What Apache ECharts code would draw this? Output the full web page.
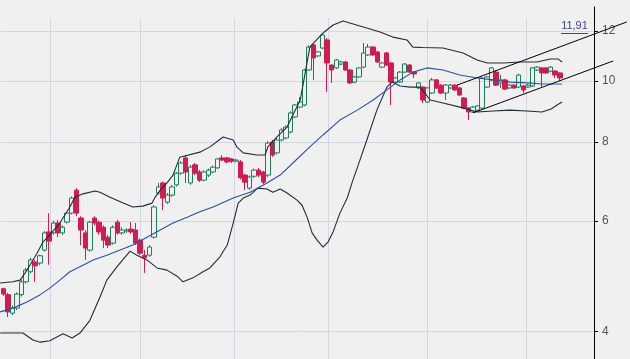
<!DOCTYPE html>
<html><head><meta charset="utf-8">
<script src="https://cdn.jsdelivr.net/npm/echarts@6/dist/echarts.min.js"></script>
<style>html,body{margin:0;padding:0;background:#f0f0f0;}#c{width:630px;height:359px;}</style>
</head><body><div id="c"></div>
<script>
// ---- data (prices) ----
const opens = [4.68,4.58,4.28,4.36,4.58,4.80,4.98,5.16,5.14,5.39,
5.76,5.74,5.95,5.74,5.97,6.17,6.71,6.06,5.74,5.39,
6.06,5.97,5.86,5.65,5.53,5.97,5.74,5.78,5.82,5.80,
5.59,5.29,5.29,5.65,6.64,6.89,6.42,6.59,6.84,7.14,
7.55,6.89,7.36,7.17,6.96,7.09,7.17,7.28,7.55,7.55,
7.52,7.46,7.44,7.09,6.76,7.06,7.22,7.17,7.09,8.00,
7.69,8.06,8.12,8.30,8.77,9.09,9.16,10.41,11.41,10.96,
11.28,11.62,10.60,10.49,10.64,10.72,10.41,9.96,10.15,10.52,
11.00,11.32,11.12,10.52,11.08,10.68,9.96,9.96,10.33,10.60,
10.33,9.75,9.78,9.26,9.57,10.04,9.85,9.57,9.75,9.85,
9.75,9.40,9.06,8.93,8.99,9.06,9.78,10.04,10.33,9.93,
10.04,9.75,9.85,9.78,9.82,9.78,9.82,10.41,10.49,10.49,
10.37,10.37,10.30];
const closes = [4.59,4.30,4.36,4.59,4.80,5.01,5.20,5.09,5.28,5.74,
5.57,5.95,5.74,5.86,6.17,6.52,6.17,5.80,5.43,5.97,
5.95,5.76,5.59,5.49,5.86,5.74,5.80,5.80,5.76,5.53,
5.33,5.24,5.45,6.31,6.79,6.52,6.59,6.79,7.14,7.41,
7.17,7.30,7.14,6.96,7.17,7.22,7.30,7.52,7.49,7.44,
7.46,7.49,7.02,6.91,7.04,7.22,7.09,6.91,7.97,7.63,
8.06,8.36,8.45,8.90,9.16,9.26,10.41,11.32,10.88,11.12,
11.83,10.68,10.41,10.80,10.72,10.41,9.93,10.15,10.49,11.08,
11.32,11.00,10.72,10.68,10.60,9.96,10.11,10.33,10.64,10.33,
10.26,9.93,9.33,9.75,10.04,9.75,9.57,9.85,9.85,9.68,
9.50,9.06,8.93,9.09,9.13,10.11,10.15,10.49,9.85,10.04,
9.71,9.85,9.75,10.22,9.68,9.85,10.49,10.52,10.30,10.30,
10.52,10.22,10.11];
const lows = [4.56,4.22,4.25,4.33,4.55,4.77,4.95,4.80,5.10,5.36,
5.11,5.70,5.65,5.70,5.94,6.14,6.10,5.49,5.20,5.36,
5.90,5.70,5.43,5.43,5.50,5.70,5.70,5.74,5.72,5.49,
5.29,4.96,5.26,5.62,6.60,6.24,6.38,6.55,6.80,7.10,
6.89,6.84,7.09,6.91,6.93,7.04,7.14,7.25,7.46,7.40,
7.41,7.43,6.98,6.71,6.72,7.02,7.04,6.86,7.04,7.58,
7.65,8.02,8.08,8.26,8.73,9.05,9.12,10.37,10.04,10.92,
11.24,9.61,9.93,10.45,10.60,10.37,9.89,9.92,10.11,10.48,
10.96,10.96,10.68,10.48,10.56,9.16,9.92,9.93,10.30,10.30,
10.11,9.71,9.23,9.23,9.54,9.71,9.54,9.33,9.71,9.64,
9.47,9.02,8.67,8.90,8.96,9.02,9.75,10.00,9.82,9.75,
9.68,9.71,9.71,9.75,9.57,9.75,9.78,10.37,9.78,10.26,
10.33,10.11,10.00];
const highs = [4.70,4.61,4.40,4.62,4.84,5.05,5.24,5.20,5.30,5.78,
6.17,6.00,6.02,5.90,6.20,6.56,6.76,6.10,5.80,6.00,
6.10,6.00,5.90,5.70,5.90,6.02,5.86,5.84,5.97,5.95,
5.62,5.39,5.49,6.35,6.89,6.93,6.64,6.84,7.17,7.46,
7.63,7.36,7.41,7.22,7.22,7.26,7.34,7.55,7.63,7.58,
7.55,7.52,7.49,7.12,7.08,7.26,7.28,7.20,8.03,8.06,
8.12,8.42,8.50,8.95,9.20,9.43,10.45,11.40,11.45,11.16,
11.91,11.70,10.64,10.84,10.76,10.76,10.45,10.19,10.52,11.49,
11.45,11.36,11.16,10.72,11.12,10.72,10.15,10.37,10.68,10.64,
10.35,9.96,9.82,9.78,10.11,10.08,9.89,9.89,9.89,9.89,
9.78,9.43,9.09,9.13,9.16,10.15,10.19,10.52,10.41,10.22,
10.08,9.89,9.89,10.26,9.85,9.89,10.52,10.56,10.52,10.52,
10.56,10.41,10.33];

// indicator lines: [candle index, price]
const upperBand = [[-0.7,4.78],[2.1,4.80],[3.7,4.83],[4.8,4.96],[5.9,5.11],[7.4,5.33],[8.7,5.55],[10.2,5.70],[12.4,5.95],[14.6,6.31],[15.7,6.54],[17.5,6.62],[20.1,6.69],[21.2,6.66],[23.4,6.54],[26.3,6.40],[28.4,6.31],[30.6,6.33],[32.6,6.40],[33.3,6.54],[34.4,6.71],[35.9,6.89],[37.2,7.09],[38.7,7.57],[43.1,7.71],[45.3,7.86],[48.2,8.15],[50.4,8.06],[51.2,7.86],[52.6,7.69],[55.6,7.63],[57.4,7.63],[58.0,7.86],[60.0,8.15],[62.2,8.45],[65.1,9.33],[66.1,10.22],[67.2,11.32],[70.1,11.92],[72.3,12.27],[74.5,12.45],[76.7,12.32],[79.7,12.14],[82.6,11.96],[85.4,11.74],[88.5,11.62],[89.8,11.32],[92.0,11.30],[96.4,11.28],[100.8,11.08],[103.9,10.80],[106.1,10.68],[109.6,10.68],[113.3,10.72],[117.0,10.72],[119.9,10.84],[121.6,10.84],[122.5,10.72]];
const lowerBand = [[-0.7,3.98],[4.3,3.98],[6.5,3.88],[8.1,3.85],[10.2,3.87],[13.1,3.97],[15.1,3.91],[16.8,3.98],[19.0,4.17],[21.2,4.54],[22.7,4.83],[24.9,5.07],[27.8,5.37],[29.3,5.29],[31.5,5.20],[33.7,5.05],[35.9,5.01],[38.1,4.90],[39.4,4.80],[41.6,4.87],[43.8,4.98],[45.3,5.05],[47.5,5.26],[49.1,5.49],[50.4,5.95],[51.5,6.40],[52.6,6.52],[54.1,6.59],[55.8,6.76],[57.8,6.74],[59.1,6.66],[60.7,6.74],[62.2,6.64],[64.4,6.47],[65.5,6.35],[66.6,6.08],[67.7,5.74],[68.8,5.59],[70.1,5.45],[71.2,5.55],[72.3,5.76],[73.8,6.17],[75.4,6.52],[76.5,6.91],[77.6,7.28],[79.7,8.06],[81.9,8.99],[84.1,9.78],[85.2,9.96],[87.0,9.82],[89.2,9.78],[91.4,9.78],[93.6,9.33],[96.4,9.23],[100.1,9.09],[103.9,8.93],[107.4,8.96],[111.1,8.99],[114.8,8.96],[118.1,8.93],[120.1,9.03],[121.4,9.16],[122.5,9.26]];
const movingAvg = [[-0.7,4.30],[2.1,4.36],[5.2,4.46],[8.1,4.58],[10.2,4.69],[12.4,4.83],[14.6,4.98],[16.8,5.07],[19.7,5.20],[22.7,5.29],[25.6,5.39],[28.4,5.49],[31.5,5.65],[34.4,5.80],[37.2,5.95],[40.3,6.08],[43.1,6.20],[46.0,6.31],[50.4,6.52],[54.1,6.66],[57.8,6.89],[60.7,7.09],[63.5,7.41],[67.2,7.86],[70.1,8.21],[73.8,8.67],[77.6,8.99],[81.1,9.33],[84.1,9.68],[87.0,10.04],[89.8,10.33],[92.9,10.49],[96.4,10.41],[100.1,10.22],[103.9,10.11],[107.4,10.04],[111.1,9.96],[114.8,9.93],[118.3,9.89],[122.5,9.89]];
const trendUpper = [[99.5,9.85],[136.7,12.41]];
const trendLower = [[103.0,8.90],[133.7,10.76]];
const priceTicks = [4, 6, 8, 10, 12];
const monthLines = [10.2, 30.0, 50.6, 71.2, 92.9, 114.6];

// ---- layout ----
const W = 630, H = 359;
const slotCount = 130;
const g0 = {left: 1, right: 36, top: 7, bottom: 0};
const g1 = {left: 0, right: 0, top: 18, bottom: 0};
const yTen = 81, pxPerDecade = 630;
const logAt = y => 1 + (yTen - y) / pxPerDecade;
const slot = (W - g0.left - g0.right) / slotCount;
const idxAt = px => (px - g0.left) / slot - 0.5;

const L = Math.log10;
const candles = opens.map((o, i) => [L(o), L(closes[i]), L(lows[i]), L(highs[i])]);
const toLog = arr => arr.map(([x, v]) => [x, L(v)]);
const maxHigh = Math.max(...highs);

const chart = echarts.init(document.getElementById('c'), null, {renderer: 'canvas'});
chart.setOption({
  animation: false,
  backgroundColor: '#f0f0f0',
  grid: [
    Object.assign({containLabel: false, outerBoundsMode: 'none'}, g0),
    Object.assign({containLabel: false, outerBoundsMode: 'none'}, g1)
  ],
  xAxis: [
    {type: 'category', gridIndex: 0, data: Array.from({length: slotCount}, (_, i) => i),
     boundaryGap: true, show: false},
    {type: 'value', gridIndex: 1, min: idxAt(0), max: idxAt(W),
     axisLine: {show: false}, axisLabel: {show: false},
     axisTick: {show: false, customValues: monthLines},
     splitLine: {show: true, lineStyle: {color: '#d4d6e4', width: 1}}}
  ],
  yAxis: [
    {type: 'value', gridIndex: 0, position: 'right', min: logAt(H), max: logAt(g0.top),
     axisLine: {show: true, lineStyle: {color: '#000', width: 1}},
     axisTick: {show: true, length: 4, customValues: priceTicks.map(L), lineStyle: {color: '#000'}},
     axisLabel: {show: true, customValues: priceTicks.map(L), margin: 8,
       formatter: v => String(Math.round(Math.pow(10, v))),
       color: '#555', fontSize: 12, fontFamily: 'Liberation Sans, Arial, sans-serif'},
     splitLine: {show: true, lineStyle: {color: '#d4d6e4', width: 1}}},
    {type: 'value', gridIndex: 1, min: logAt(H), max: logAt(g1.top), show: false,
     splitLine: {show: false}}
  ],
  series: [
    {type: 'candlestick', xAxisIndex: 0, yAxisIndex: 0, data: candles, barWidth: 5,
     itemStyle: {color: 'transparent', color0: '#d01c50', borderColor: '#1b7d5c', borderColor0: '#d01c50', borderWidth: 1}},
    {type: 'line', xAxisIndex: 1, yAxisIndex: 1, data: toLog(upperBand), showSymbol: false, symbol: 'none',
     lineStyle: {color: '#1d2d3d', width: 1.1}, silent: true},
    {type: 'line', xAxisIndex: 1, yAxisIndex: 1, data: toLog(lowerBand), showSymbol: false, symbol: 'none',
     lineStyle: {color: '#1d2d3d', width: 1.1}, silent: true},
    {type: 'line', xAxisIndex: 1, yAxisIndex: 1, data: toLog(movingAvg), showSymbol: false, symbol: 'none',
     lineStyle: {color: '#2a52a0', width: 1.1}, silent: true,
     markLine: {silent: true, symbol: ['none', 'none'],
       lineStyle: {color: '#3a4590', width: 1, type: 'solid'},
       label: {show: true, position: 'insideMiddleTop', distance: 2, formatter: maxHigh.toFixed(2).replace('.', ','),
         color: '#3a4590', fontSize: 11, fontFamily: 'Liberation Sans, Arial, sans-serif'},
       data: [[{coord: [idxAt(561), L(maxHigh)]}, {coord: [idxAt(588), L(maxHigh)]}]]}},
    {type: 'line', xAxisIndex: 1, yAxisIndex: 1, data: toLog(trendUpper), showSymbol: false, symbol: 'none',
     lineStyle: {color: '#000', width: 1}, silent: true},
    {type: 'line', xAxisIndex: 1, yAxisIndex: 1, data: toLog(trendLower), showSymbol: false, symbol: 'none',
     lineStyle: {color: '#000', width: 1}, silent: true}
  ]
});
</script></body></html>
